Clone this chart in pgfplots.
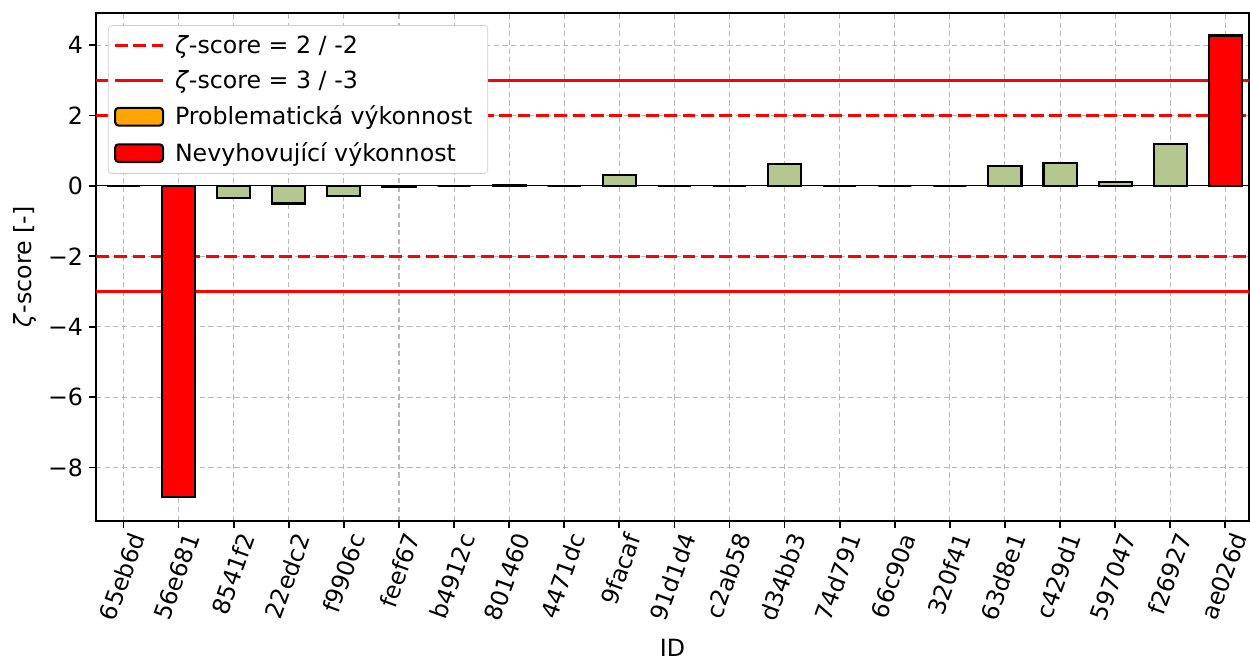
\documentclass[border=0pt]{standalone}
\usepackage{fontspec}
\setmainfont{DejaVu Sans}
\usepackage{pgfplots}
\pgfplotsset{compat=1.18}

\definecolor{okgreen}{RGB}{181,199,143}
\definecolor{warnorange}{RGB}{255,165,0}
\definecolor{gridgray}{RGB}{184,184,184}
\definecolor{legframe}{RGB}{204,204,204}

\newcommand{\fs}{\fontsize{13.7}{16}\selectfont}

\pgfplotsset{
  legline/.style={legend image code/.code={\draw[##1] (0cm,0cm) -- (0.975cm,0cm);}},
  legbox/.style={legend image code/.code={\draw[##1] (0cm,-0.18cm) rectangle (0.975cm,0.18cm);}},
}

\pgfplotstableread{
x  z
0  0.00
2 -0.35
3 -0.50
4 -0.28
5 -0.03
6  0.00
7  0.01
8  0.00
9  0.31
10 0.00
11 0.00
12 0.63
13 0.00
14 0.00
15 0.00
16 0.56
17 0.66
18 0.12
19 1.20
}\okdata

\pgfplotstableread{
x  z
1  -8.84
20  4.27
}\baddata

\begin{document}
\begin{tikzpicture}
\begin{axis}[
  scale only axis,
  width=9.224in, height=4.062in,
  xmin=-0.5, xmax=20.43,
  ymin=-9.51, ymax=4.91,
  xtick={0,...,20},
  xticklabels={65eb6d,56e681,8541f2,22edc2,f9906c,feef67,b4912c,801460,4471dc,9facaf,91d1d4,c2ab58,d34bb3,74d791,66c90a,320f41,63d8e1,c429d1,597047,f26927,ae026d},
  xticklabel style={rotate=70, anchor=north east, xshift=2.5pt, font=\fs},
  ytick={-8,-6,-4,-2,0,2,4},
  yticklabels={−8,−6,−4,−2,0,2,4},
  yticklabel style={font=\fs},
  xlabel={ID}, ylabel={\textit{ζ}-score [-]},
  label style={font=\fs},
  xlabel style={yshift=-1.5pt},
  tick align=outside, tick pos=left,
  major tick length=4pt,
  every tick/.style={black, line width=1pt},
  axis line style={line width=1pt},
  grid=major,
  major grid style={gridgray, line width=0.6pt, dash pattern=on 3pt off 2pt},
  legend style={at={(0.0104,0.976)}, anchor=north west, draw=legframe, rounded corners=2pt,
    fill=white, font=\fs,
    row sep=4.6pt, inner xsep=3pt, inner ysep=3.5pt,
    nodes={inner xsep=6pt}},
  legend cell align=left,
]
\addplot[red, line width=1.8pt, dash pattern=on 7.4pt off 3.2pt, forget plot] coordinates {(-0.5,2) (20.43,2)};
\addplot[red, line width=1.8pt, dash pattern=on 7.4pt off 3.2pt, forget plot] coordinates {(-0.5,-2) (20.43,-2)};
\addplot[red, line width=1.8pt, forget plot] coordinates {(-0.5,3) (20.43,3)};
\addplot[red, line width=1.8pt, forget plot] coordinates {(-0.5,-3) (20.43,-3)};
\addplot[black, line width=0.6pt, forget plot] coordinates {(-0.5,0) (20.43,0)};
\addplot[ybar, bar width=0.6, bar shift=0pt, fill=okgreen, draw=black, line width=1.2pt, forget plot] table[x=x, y=z] {\okdata};
\addplot[ybar, bar width=0.6, bar shift=0pt, fill=red, draw=black, line width=1.2pt, forget plot] table[x=x, y=z] {\baddata};

\addlegendimage{legline, red, line width=1.8pt, dash pattern=on 7.4pt off 3.2pt}
\addlegendentry{\textit{ζ}-score = 2 / -2}
\addlegendimage{legline, red, line width=1.8pt}
\addlegendentry{\textit{ζ}-score = 3 / -3}
\addlegendimage{legbox, fill=warnorange, draw=black, line width=1.2pt}
\addlegendentry{Problematická výkonnost}
\addlegendimage{legbox, fill=red, draw=black, line width=1.2pt}
\addlegendentry{Nevyhovující výkonnost}
\end{axis}
\pgfresetboundingbox
\path (-0.768in,-1.146in) rectangle (9.232in,4.166in);
\end{tikzpicture}
\end{document}
